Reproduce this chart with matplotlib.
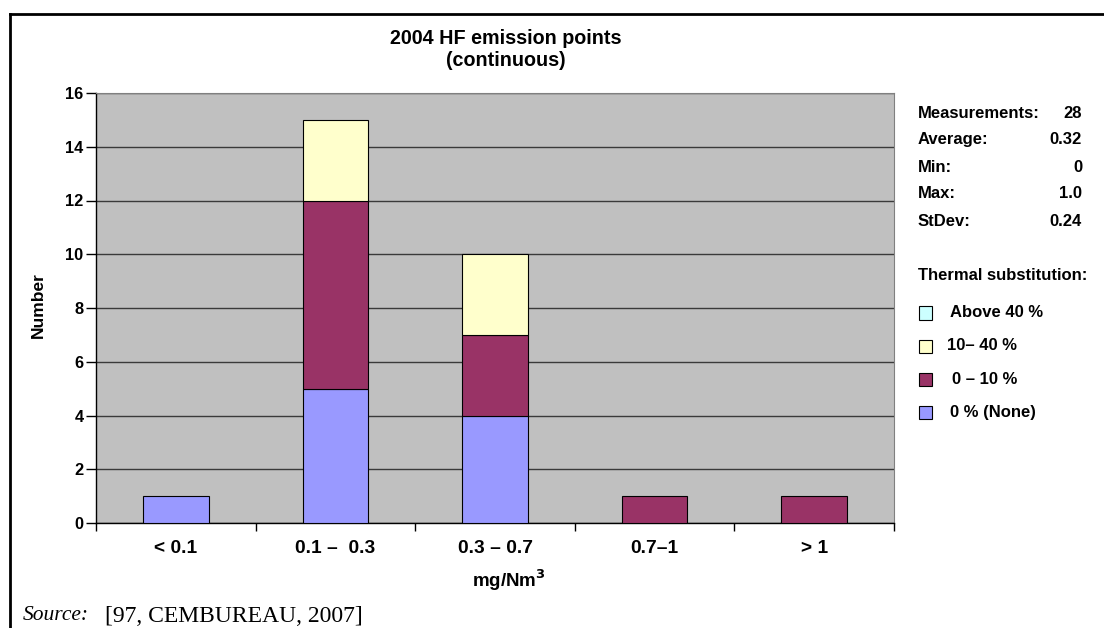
import matplotlib
matplotlib.use("Agg")
import matplotlib.pyplot as plt
from matplotlib.lines import Line2D
from matplotlib.patches import Rectangle
import numpy as np

plt.rcParams['font.family'] = ['Liberation Sans', 'DejaVu Sans']

categories = ["< 0.1", "0.1 \u2013  0.3", "0.3 \u2013 0.7", "0.7\u20131", "> 1"]
series_names = ["0 % (None)", "0 \u2013 10 %", "10\u2013 40 %", "Above 40 %"]
none_vals = [1, 5, 4, 0, 0]
low_vals = [0, 7, 3, 1, 1]
mid_vals = [0, 3, 3, 0, 0]
high_vals = [0, 0, 0, 0, 0]
colors = ["#9999FF", "#993366", "#FFFFCC", "#CCFFFF"]
stat_labels = ["Measurements:", "Average:", "Min:", "Max:", "StDev:"]
stat_values = ["28", "0.32", "0", "1.0", "0.24"]

W, H = 1104, 628
fig = plt.figure(figsize=(W / 100, H / 100), dpi=100)
ax = fig.add_axes([96 / W, 1 - 523 / H, (894 - 96) / W, (523 - 93) / H])
ax.set_facecolor("#C0C0C0")

x = np.arange(len(categories))
bottom = np.zeros(len(categories))
series = [none_vals, low_vals, mid_vals, high_vals]
for vals, c in zip(series, colors):
    v = np.array(vals, dtype=float)
    mask = v > 0
    ax.bar(x[mask], v[mask], bottom=bottom[mask], width=0.41, color=c,
           edgecolor="black", linewidth=0.8, zorder=3)
    bottom += v

ax.set_xlim(-0.5, len(categories) - 0.5)
ax.set_ylim(0, 16)
ax.set_yticks(np.arange(0, 17, 2))
ax.yaxis.grid(True, color="#3a3a3a", linewidth=1.0, zorder=1)
ax.set_axisbelow(True)
ax.set_xticks(x)
ax.set_xticklabels(categories, fontsize=13.8, fontweight="bold")
ax.set_xticks(np.arange(-0.5, len(categories)), minor=True)
ax.tick_params(axis="x", which="major", length=0, pad=12)
ax.tick_params(axis="x", which="minor", length=6, width=1, color="black")
ax.tick_params(axis="y", length=7, width=1, pad=2, labelsize=11.8)
for lbl in ax.get_yticklabels():
    lbl.set_fontweight("bold")
for s in ["top", "right"]:
    ax.spines[s].set_color("#808080")
    ax.spines[s].set_linewidth(0.8)
ax.spines["left"].set_color("black")
ax.spines["bottom"].set_color("black")
ax.spines["left"].set_linewidth(1)
ax.spines["bottom"].set_linewidth(1)

fig.text(38 / W, 1 - 305 / H, "Number", rotation=90, ha="center", va="center",
         fontsize=12.5, fontweight="bold")
fig.text(509 / W, 1 - 580 / H, "mg/Nm$^\\mathbf{3}$", ha="center", va="center",
         fontsize=13.5, fontweight="bold")

fig.text(506 / W, 1 - 38 / H, "2004 HF emission points", ha="center", va="center",
         fontsize=14.2, fontweight="bold")
fig.text(506 / W, 1 - 61 / H, "(continuous)", ha="center", va="center",
         fontsize=14.2, fontweight="bold")

stat_y = [113, 140, 168, 194, 222]
for lab, val, yy in zip(stat_labels, stat_values, stat_y):
    fig.text(918 / W, 1 - yy / H, lab, ha="left", va="center", fontsize=12, fontweight="bold")
    fig.text(1082 / W, 1 - yy / H, val, ha="right", va="center", fontsize=12, fontweight="bold")

fig.text(918 / W, 1 - 276 / H, "Thermal substitution:", ha="left", va="center",
         fontsize=12, fontweight="bold")
leg_y = [313, 346, 379, 412]
leg_text_x = [950, 947, 952, 950]
for name, c, yy, tx in zip(series_names[::-1], colors[::-1], leg_y, leg_text_x):
    fig.patches.append(Rectangle((918.5 / W, 1 - (yy + 6.5) / H), 13 / W, 13 / H,
                                 transform=fig.transFigure, facecolor=c,
                                 edgecolor="black", linewidth=0.8))
    fig.text(tx / W, 1 - yy / H, name, ha="left", va="center", fontsize=12, fontweight="bold")

fig.text(23 / W, 1 - 616 / H, "Source:", ha="left", va="center", fontsize=15.5,
         fontstyle="italic", family=["Liberation Serif"])
fig.text(105 / W, 1 - 616 / H, "[97, CEMBUREAU, 2007]", ha="left", va="center", fontsize=17,
         family=["Liberation Serif"])

# figure border
fig.add_artist(Line2D([10 / W, 10 / W], [0, 1 - 14 / H], transform=fig.transFigure,
                      color="black", linewidth=2))
fig.add_artist(Line2D([10 / W, 1], [1 - 14 / H, 1 - 14 / H], transform=fig.transFigure,
                      color="black", linewidth=2))

fig.savefig("out.png", dpi=100)
